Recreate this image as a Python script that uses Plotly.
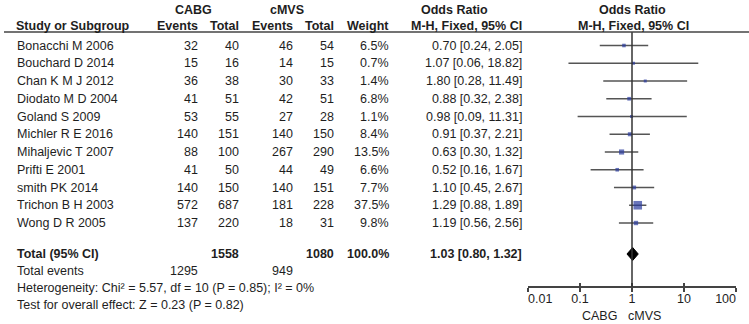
import plotly.graph_objects as go

studies = ["Bonacchi M 2006", "Bouchard D 2014", "Chan K M J 2012", "Diodato M D 2004",
           "Goland S 2009", "Michler R E 2016", "Mihaljevic T 2007", "Prifti E 2001",
           "smith PK 2014", "Trichon B H 2003", "Wong D R 2005"]
cabg_events = [32, 15, 36, 41, 53, 140, 88, 41, 140, 572, 137]
cabg_total = [40, 16, 38, 51, 55, 151, 100, 50, 150, 687, 220]
cmvs_events = [46, 14, 30, 42, 27, 140, 267, 44, 140, 181, 18]
cmvs_total = [54, 15, 33, 51, 28, 150, 290, 49, 151, 228, 31]
weights = [6.5, 0.7, 1.4, 6.8, 1.1, 8.4, 13.5, 6.6, 7.7, 37.5, 9.8]
or_est = [0.70, 1.07, 1.80, 0.88, 0.98, 0.91, 0.63, 0.52, 1.10, 1.29, 1.19]
ci_lo = [0.24, 0.06, 0.28, 0.32, 0.09, 0.37, 0.30, 0.16, 0.45, 0.88, 0.56]
ci_hi = [2.05, 18.82, 11.49, 2.38, 11.31, 2.21, 1.32, 1.67, 2.67, 1.89, 2.56]

total_cabg = 1558
total_cmvs = 1080
total_weight = 100.0
events_cabg = 1295
events_cmvs = 949
total_or = 1.03
total_lo = 0.80
total_hi = 1.32
heterogeneity = "Heterogeneity: Chi² = 5.57, df = 10 (P = 0.85); I² = 0%"
overall = "Test for overall effect: Z = 0.23 (P = 0.82)"

tick_vals = [0.01, 0.1, 1, 10, 100]
tick_labels = ["0.01", "0.1", "1", "10", "100"]
left_label = "CABG"
right_label = "cMVS"

# ---- layout constants (pixels) ----
W, H = 749, 324
FONT = "Liberation Sans, Arial, sans-serif"
TXT = "#1e1e1e"
FS = 12.5
row0, dy = 45.5, 17.75
rows = [row0 + i * dy for i in range(len(studies))]
y_total = 254
y_events = 271
y_het = 288
y_test = 305
y_axis = 287
y_ticklab = 300
y_head1 = 10
y_head2 = 26
y_rule = 32


def px(x):
    return x / W


fig = go.Figure()

# CI lines
cx, cy = [], []
for lo, hi, r in zip(ci_lo, ci_hi, rows):
    cx += [lo, hi, None]
    cy += [r, r, None]
fig.add_trace(go.Scatter(x=cx, y=cy, mode="lines", line=dict(color="#555555", width=1.5),
                         hoverinfo="skip", showlegend=False))

# squares
sizes = [max(3.0, 1.4 * (w ** 0.5)) for w in weights]
fig.add_trace(go.Scatter(x=or_est, y=rows, mode="markers",
                         marker=dict(symbol="square", size=sizes, color="#2a3a9c",
                                     line=dict(width=0)),
                         showlegend=False))

# diamond
dh = 6.5
fig.add_trace(go.Scatter(x=[total_lo, total_or, total_hi, total_or, total_lo],
                         y=[y_total, y_total - dh, y_total, y_total + dh, y_total],
                         mode="lines", fill="toself", fillcolor="black",
                         line=dict(color="black", width=1), showlegend=False))

# tick labels (end labels inset, RevMan style)
tpos = ["middle center"] * len(tick_vals)
tpos[0] = "middle right"
tpos[-1] = "middle left"
fig.add_trace(go.Scatter(x=tick_vals, y=[y_ticklab] * len(tick_vals), mode="text",
                         text=tick_labels, textposition=tpos,
                         textfont=dict(family=FONT, size=FS, color=TXT),
                         hoverinfo="skip", showlegend=False))

# crossing ticks (inside part) via overlay axis
fig.add_trace(go.Scatter(x=[0.01, 100], y=[y_axis, y_axis], xaxis="x2", mode="lines",
                         line=dict(width=0), showlegend=False, hoverinfo="skip"))

shapes = [
    dict(type="line", xref="x", yref="y", x0=1, x1=1, y0=y_rule, y1=y_axis,
         line=dict(color="#333333", width=1.5)),
    dict(type="line", xref="paper", yref="y", x0=px(4), x1=1, y0=y_rule, y1=y_rule,
         line=dict(color="#444444", width=1.5)),
]

ann = []


def add(text, x, y, anchor="right", bold=False):
    t = f"<b>{text}</b>" if bold else text
    ann.append(dict(text=t, x=px(x), y=y, xref="paper", yref="y", xanchor=anchor,
                    yanchor="middle", showarrow=False,
                    font=dict(family=FONT, size=FS, color=TXT)))


# headers
add("CABG", 193, y_head1, "center", True)
add("cMVS", 287, y_head1, "center", True)
add("Odds Ratio", 455, y_head1, "center", True)
add("Odds Ratio", 632, y_head1, "center", True)
add("Study or Subgroup", 14, y_head2, "left", True)
add("Events", 200, y_head2, "right", True)
add("Total", 241, y_head2, "right", True)
add("Events", 295, y_head2, "right", True)
add("Total", 336, y_head2, "right", True)
add("Weight", 391, y_head2, "right", True)
add("M-H, Fixed, 95% CI", 524, y_head2, "right", True)
add("M-H, Fixed, 95% CI", 633, y_head2, "center", True)

# study rows
for i, r in enumerate(rows):
    add(studies[i], 15, r, "left")
    add(str(cabg_events[i]), 200, r)
    add(str(cabg_total[i]), 241, r)
    add(str(cmvs_events[i]), 295, r)
    add(str(cmvs_total[i]), 336, r)
    add(f"{weights[i]:.1f}%", 391, r)
    add(f"{or_est[i]:.2f} [{ci_lo[i]:.2f}, {ci_hi[i]:.2f}]", 524, r)

# totals
add("Total (95% CI)", 15, y_total, "left", True)
add(str(total_cabg), 241, y_total, "right", True)
add(str(total_cmvs), 336, y_total, "right", True)
add(f"{total_weight:.1f}%", 391, y_total, "right", True)
add(f"{total_or:.2f} [{total_lo:.2f}, {total_hi:.2f}]", 524, y_total, "right", True)
add("Total events", 15, y_events, "left")
add(str(events_cabg), 200, y_events)
add(str(events_cmvs), 295, y_events)
add(heterogeneity, 15, y_het, "left")
add(overall, 15, y_test, "left")

# axis side labels
add(left_label, 619, 316, "right")
add(right_label, 626, 316, "left")

ax_dom = [px(528), px(736)]
pos = 1 - y_axis / H

fig.update_layout(
    width=W, height=H, margin=dict(l=0, r=0, t=0, b=0, autoexpand=False),
    paper_bgcolor="white", plot_bgcolor="white",
    showlegend=False, shapes=shapes, annotations=ann,
    font=dict(family=FONT, size=FS, color=TXT),
    xaxis=dict(type="log", range=[-2, 2], domain=ax_dom, anchor="free", position=pos,
               showline=True, linecolor="#444444", linewidth=1.5,
               ticks="outside", ticklen=4, tickwidth=1.5, tickcolor="#444444",
               tickvals=tick_vals, showticklabels=False, showgrid=False, zeroline=False,
               automargin=False),
    xaxis2=dict(type="log", range=[-2, 2], overlaying="x", anchor="free", position=pos,
                showline=False, ticks="inside", ticklen=4, tickwidth=1.5,
                tickcolor="#444444", tickvals=tick_vals, showticklabels=False,
                showgrid=False, zeroline=False, automargin=False),
    yaxis=dict(range=[H, 0], domain=[0, 1], visible=False, showgrid=False, zeroline=False),
)

fig.write_html("out.html", config={"displayModeBar": False},
               post_script="document.body.style.margin='0px';document.body.style.padding='0px';")
